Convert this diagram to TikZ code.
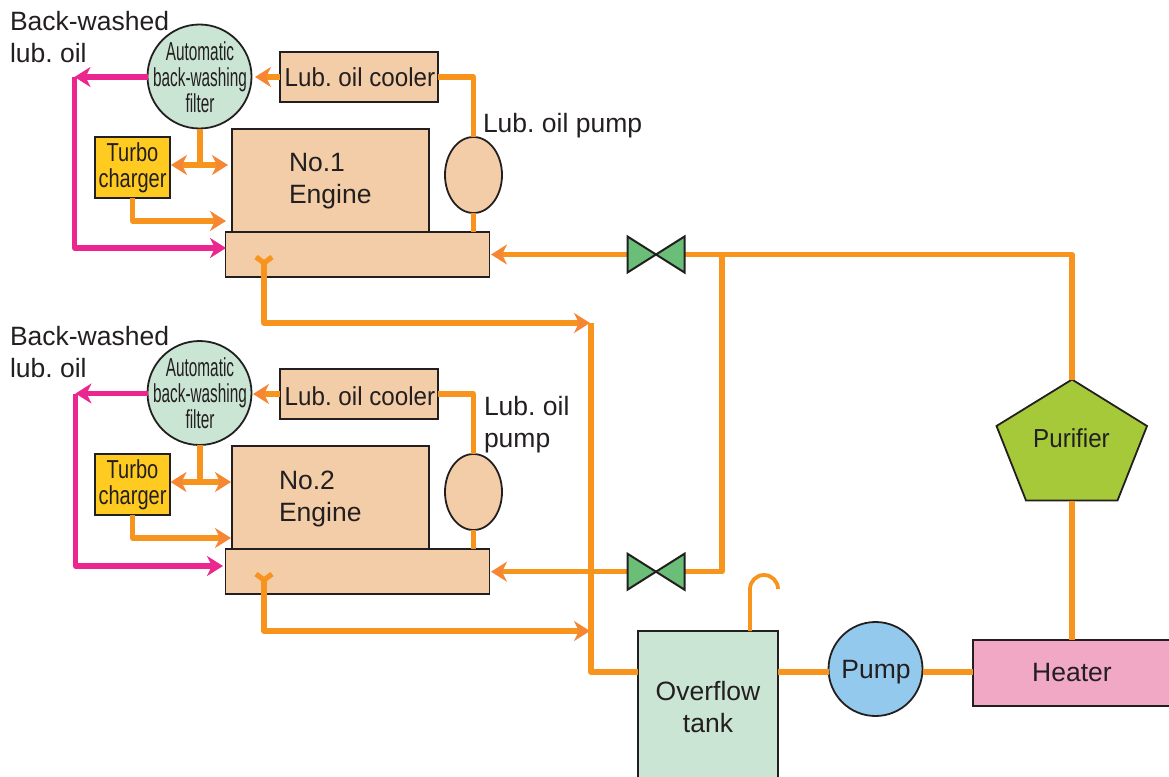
\documentclass[tikz,border=0pt]{standalone}
\usepackage{fontspec}
\setmainfont{Liberation Sans}
\newfontfamily\fcool[FakeStretch=0.93]{Liberation Sans}
\newfontfamily\fturbo[FakeStretch=0.77]{Liberation Sans}
\newfontfamily\ffilter[FakeStretch=0.59]{Liberation Sans}
\usetikzlibrary{arrows.meta,shapes.geometric}
\definecolor{pipeor}{HTML}{F7941E}
\definecolor{tipor}{HTML}{F58634}
\definecolor{mag}{HTML}{EC268F}
\definecolor{ink}{HTML}{231F20}
\definecolor{skin}{HTML}{F2CDA8}
\definecolor{mint}{HTML}{CBE5D4}
\definecolor{turbo}{HTML}{FFCB20}
\definecolor{vgreen}{HTML}{6BBE77}
\definecolor{pur}{HTML}{A6C93A}
\definecolor{pumpb}{HTML}{93C9EC}
\definecolor{heat}{HTML}{F0A8C4}
\tikzset{
  box/.style={draw=ink,line width=1.8pt,inner sep=0pt,outer sep=0pt,text=ink},
  lbl/.style={inner sep=0pt,outer sep=0pt,text=ink,font=\frenchspacing\fontsize{26.5}{32}\selectfont,align=left},
  pipe/.style={draw=pipeor,line width=5.2pt,line join=round},
  oil/.style={draw=mag,line width=5.2pt,line join=round},
  tipa/.style={-{Stealth[length=16pt,width=20pt,inset=5pt,color=tipor]}},
  tipm/.style={-{Stealth[length=16pt,width=20pt,inset=5pt,color=mag]}},
  tipb/.style={{Stealth[length=16pt,width=20pt,inset=5pt,color=tipor]}-{Stealth[length=16pt,width=20pt,inset=5pt,color=tipor]}},
  filterc/.style={box,circle,fill=mint,minimum size=104pt},
  filtert/.style={lbl,align=center,font=\ffilter\fontsize{26}{26}\selectfont},
  coolerb/.style={box,fill=skin,minimum width=158pt,minimum height=50pt},
  coolert/.style={lbl,font=\frenchspacing\fcool\fontsize{26}{30}\selectfont},
  engineb/.style={box,fill=skin,minimum width=197pt,minimum height=103pt},
  sumpb/.style={box,fill=skin,minimum width=264pt,minimum height=45pt},
  turbob/.style={box,fill=turbo,minimum width=75pt,minimum height=61pt,align=center,font=\fturbo\fontsize{26}{26}\selectfont},
  pumpe/.style={box,ellipse,fill=skin,minimum width=57pt,minimum height=76pt},
  valvep/.style={draw=ink,line width=2pt,fill=vgreen,line join=miter},
}
\begin{document}
\begin{tikzpicture}[x=1pt,y=-1pt]
\clip (0,0) rectangle (1169,776);
% ---- system 1
\node[filterc] (filter1) at (199.5,76.5) {};
\node[filtert] (filtert1) at (200,77) {Automatic\\back-washing\\filter};
\node[coolerb] (cooler1) at (359,77) {};
\node[coolert] (coolert1) at (360,77) {Lub. oil cooler};
\node[engineb] (engine1) at (330.5,180.5) {};
\node[sumpb] (sump1) at (357.5,254.5) {};
\node[pumpe] (epump1) at (473.5,175) {};
\node[turbob] (turbo1) at (132.5,167.5) {Turbo\\charger};
\node[lbl,anchor=west] (eng1t) at (289,181) {No.1\\Engine};
\node[lbl,anchor=west] (bw1) at (10,37) {Back-washed\\lub. oil};
\node[lbl,anchor=west] (lp1) at (483,126) {Lub. oil pump};
% ---- system 2
\node[filterc] (filter2) at (199.5,393) {};
\node[filtert] (filtert2) at (200,393.5) {Automatic\\back-washing\\filter};
\node[coolerb] (cooler2) at (359,394) {};
\node[coolert] (coolert2) at (360,396) {Lub. oil cooler};
\node[engineb] (engine2) at (330.5,497.5) {};
\node[sumpb] (sump2) at (357.5,571.5) {};
\node[pumpe] (epump2) at (473.5,492) {};
\node[turbob] (turbo2) at (132.5,484.5) {Turbo\\charger};
\node[lbl,anchor=west] (eng2t) at (279,499) {No.2\\Engine};
\node[lbl,anchor=west] (bw2) at (10,352) {Back-washed\\lub. oil};
\node[lbl,anchor=west] (lp2) at (484,425) {Lub. oil\\pump};
% ---- common equipment
\node[box,fill=mint,minimum width=140pt,minimum height=150pt] (tank) at (708,706) {};
\node[lbl,align=center] (tankt) at (708,707) {Overflow\\tank};
\node[box,circle,fill=pumpb,minimum size=94pt] (pump) at (875.5,669) {};
\node[lbl] (pumpt) at (876,672) {Pump};
\node[box,fill=heat,minimum width=200pt,minimum height=66pt] (heater) at (1073,673) {};
\node[lbl] (heatt) at (1072,673) {Heater};
\coordinate (pa) at (1072,379.5);
\coordinate (pb) at (1147,426);
\coordinate (pc) at (1117.5,500.5);
\coordinate (pd) at (1026,500.5);
\coordinate (pe) at (996.5,426);
\draw[box,fill=pur,line join=miter] (pa)--(pb)--(pc)--(pd)--(pe)--cycle;
\node[lbl,font=\frenchspacing\fcool\fontsize{26}{30}\selectfont] (purt) at (1071.5,438) {Purifier};
% ---- free ends
\coordinate (v1) at (656,254.5);
\coordinate (v2) at (656,571.7);
\coordinate (j1) at (722,254.5);
\coordinate (vr1) at (684.5,254.5);
\coordinate (vl1) at (627.5,254.5);
\coordinate (vr2) at (684.5,571.7);
\coordinate (vl2) at (627.5,571.7);
\coordinate (r1) at (491,254.5);
\coordinate (r2) at (491,571.7);
\coordinate (t1) at (473.5,77);
\coordinate (t2) at (473.5,394);
\coordinate (fl1) at (255,77);
\coordinate (fl2) at (253,394);
% ---- pipes system 1
\draw[pipe] (epump1.north) -- (t1) -- (cooler1.east);
\draw[pipe] (epump1.south) -- (sump1.north -| epump1.south);
\draw[pipe,tipa] (cooler1.west) -- (fl1);
\coordinate (jf1) at (200,165);
\coordinate (ta1) at (171,165);
\coordinate (tb1) at (228,165);
\draw[pipe,tipb] (ta1) -- (tb1);
\draw[pipe] (filter1.south -| jf1) -- (jf1);
\coordinate (tc1) at (132.5,221);
\coordinate (td1) at (226,221);
\draw[pipe,tipa] (turbo1.south -| tc1) -- (tc1) -- (td1);
\coordinate (mt1) at (74.5,77);
\coordinate (mb1) at (74.5,248);
\coordinate (mc1) at (226,248);
\draw[oil,tipm] (mt1) -- (mb1) -- (mc1);
\draw[oil,tipm] (filter1.west |- mt1) -- (mt1);
% ---- pipes system 2
\draw[pipe] (epump2.north) -- (t2) -- (cooler2.east);
\draw[pipe] (epump2.south) -- (sump2.north -| epump2.south);
\draw[pipe,tipa] (cooler2.west) -- (fl2);
\coordinate (jf2) at (200,482);
\coordinate (ta2) at (170.5,482);
\coordinate (tb2) at (231,482);
\draw[pipe,tipb] (ta2) -- (tb2);
\draw[pipe] (filter2.south -| jf2) -- (jf2);
\coordinate (tc2) at (132.5,538);
\coordinate (td2) at (231,538);
\draw[pipe,tipa] (turbo2.south -| tc2) -- (tc2) -- (td2);
\coordinate (mt2) at (75.5,393.5);
\coordinate (mb2) at (75.5,566);
\coordinate (mc2) at (223,566);
\draw[oil,tipm] (mt2) -- (mb2) -- (mc2);
\draw[oil,tipm] (filter2.west |- mt2) -- (mt2);
% ---- drains
\coordinate (y1) at (264,263);
\coordinate (yl1) at (256,257);
\coordinate (yr1) at (272,257);
\coordinate (dr1) at (264,323);
\coordinate (de1) at (590,323);
\draw[pipe,tipa] (y1) -- (dr1) -- (de1);
\draw[pipe,line join=miter] (yl1) -- (y1) -- (yr1);
\coordinate (y2) at (264,580);
\coordinate (yl2) at (256,574);
\coordinate (yr2) at (272,574);
\coordinate (dr2) at (264,631);
\coordinate (de2) at (590,631);
\draw[pipe,tipa] (y2) -- (dr2) -- (de2);
\draw[pipe,line join=miter] (yl2) -- (y2) -- (yr2);
% ---- main lines
\coordinate (k1) at (591,323);
\coordinate (k2) at (591,672);
\draw[pipe] (k1) -- (k2) -- (tank.west |- k2);
\coordinate (k3) at (1072,254.5);
\draw[pipe] (pa) -- (k3) -- (vr1);
\draw[pipe,tipa] (vl1) -- (r1);
\coordinate (k4) at (722,571.7);
\draw[pipe] (j1) -- (k4) -- (vr2);
\draw[pipe,tipa] (vl2) -- (r2);
\draw[pipe] (pc -| pa) -- (heater.north -| pa);
\coordinate (k5) at (778,672);
\coordinate (k6) at (923,672);
\draw[pipe] (k5) -- (pump.west |- k5);
\draw[pipe] (k6) -- (heater.west |- k6);
\coordinate (v3) at (750,631);
\coordinate (v4) at (750,589);
\draw[draw=pipeor,line width=3.8pt] (v3) -- (v4) arc[start angle=180,end angle=360,radius=14];
% ---- valves
\foreach \v in {1,2}{
  \draw[valvep] (vl\v) ++(0,-18) -- (v\v) -- ++(-28.5,18) -- cycle;
  \draw[valvep] (vr\v) ++(0,-18) -- (v\v) -- ++(28.5,18) -- cycle;
}
\end{tikzpicture}
\end{document}
